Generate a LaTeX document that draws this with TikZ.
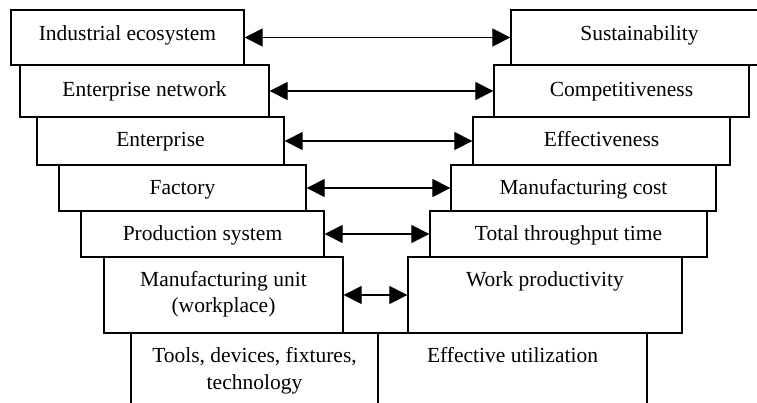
\documentclass[tikz,border=0pt]{standalone}
\usepackage{fontspec}
\setmainfont{Liberation Serif}
\usetikzlibrary{arrows.meta,fit}
\begin{document}
\begin{tikzpicture}[x=1pt,y=-1pt,
  boxst/.style={draw,line width=1.3pt,inner sep=0pt,rectangle},
  lbl/.style={anchor=base,inner sep=0pt,font=\fontsize{21.5}{26}\selectfont},
  dbl/.style={line width=1.2pt,{Triangle[length=18pt,width=18pt]}-{Triangle[length=18pt,width=18pt]}}]
\useasboundingbox (0,0) rectangle (757,402);
\clip (0,0) rectangle (757,402);
% left column
\node[boxst,fit={(11,10) (244,65)}] (L1) {};
\node[boxst,fit={(20,65) (269,117)}] (L2) {};
\node[boxst,fit={(37,117) (284,165)}] (L3) {};
\node[boxst,fit={(59,165) (306,211)}] (L4) {};
\node[boxst,fit={(81,211) (324,257)}] (L5) {};
\node[boxst,fit={(104,257) (343,333)}] (L6) {};
\node[boxst,fit={(131,333) (378,412)}] (L7) {};
% right column
\node[boxst,fit={(511,10) (768,65)}] (R1) {};
\node[boxst,fit={(494,65) (749,117)}] (R2) {};
\node[boxst,fit={(473,117) (730,165)}] (R3) {};
\node[boxst,fit={(451,165) (716,211)}] (R4) {};
\node[boxst,fit={(430,211) (707,257)}] (R5) {};
\node[boxst,fit={(408,257) (682,333)}] (R6) {};
\node[boxst,fit={(378,333) (647,412)}] (R7) {};
% labels
\node[lbl] (tL1) at (127.5,40) {Industrial ecosystem};
\node[lbl] (tL2) at (144.5,96.5) {Enterprise network};
\node[lbl] (tL3) at (160.5,146.5) {Enterprise};
\node[lbl] (tL4) at (182.5,194) {Factory};
\node[lbl] (tL5) at (202.5,240.5) {Production system};
\node[lbl] (tL6a) at (223.5,286) {Manufacturing unit};
\node[lbl] (tL6b) at (223.5,312) {(workplace)};
\node[lbl] (tL7a) at (254.5,362) {Tools, devices, fixtures,};
\node[lbl] (tL7b) at (254.5,389) {technology};
\node[lbl] (tR1) at (639.5,40) {Sustainability};
\node[lbl] (tR2) at (621.5,96.5) {Competitiveness};
\node[lbl] (tR3) at (601.5,146.5) {Effectiveness};
\node[lbl] (tR4) at (583.5,194) {Manufacturing cost};
\node[lbl] (tR5) at (568.5,240.5) {Total throughput time};
\node[lbl] (tR6) at (545,286) {Work productivity};
\node[lbl] (tR7) at (512.5,362.5) {Effective utilization};
% connectors
\draw[dbl] (L1.east) -- (R1.west);
\draw[dbl] (L2.east) -- (R2.west);
\draw[dbl] (L3.east) -- (R3.west);
\draw[dbl] (L4.east) -- (R4.west);
\draw[dbl] (L5.east) -- (R5.west);
\draw[dbl] (L6.east) -- (R6.west);
\end{tikzpicture}
\end{document}
